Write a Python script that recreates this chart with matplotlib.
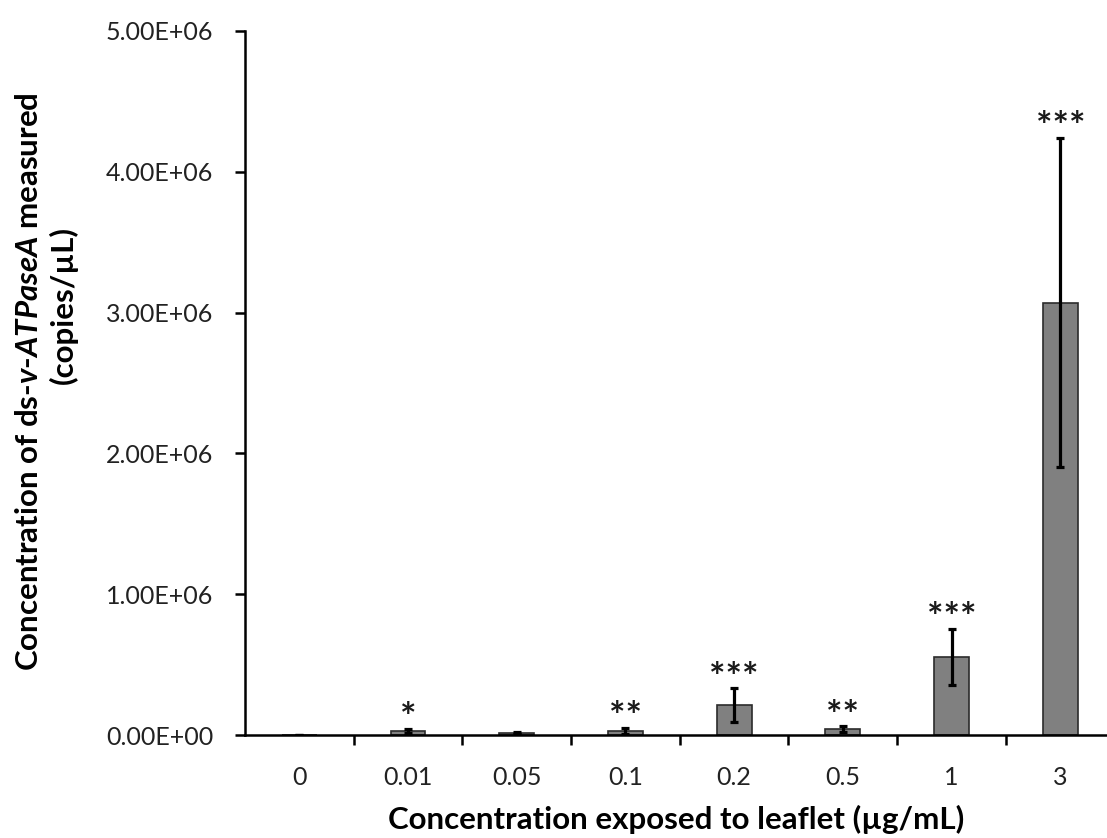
import matplotlib
matplotlib.use("Agg")
import matplotlib.pyplot as plt
import numpy as np

categories = ["0", "0.01", "0.05", "0.1", "0.2", "0.5", "1", "3"]
means = [0, 2.8e4, 1.5e4, 3.0e4, 2.13e5, 4.3e4, 5.54e5, 3.07e6]
errors = [0, 1.5e4, 5e3, 2.0e4, 1.2e5, 2.0e4, 2.0e5, 1.17e6]
stars = ["", "*", "", "**", "***", "**", "***", "***"]
yticks = [0, 1e6, 2e6, 3e6, 4e6, 5e6]
ytick_labels = ["0.00E+00", "1.00E+06", "2.00E+06", "3.00E+06", "4.00E+06", "5.00E+06"]

plt.rcParams['font.family'] = ['Lato', 'DejaVu Sans']
plt.rcParams['mathtext.fontset'] = 'custom'
plt.rcParams['mathtext.rm'] = 'Lato'
plt.rcParams['mathtext.bf'] = 'Lato:bold'
plt.rcParams['mathtext.it'] = 'Lato:italic'
plt.rcParams['mathtext.bfit'] = 'Lato:italic:bold'

fig = plt.figure(figsize=(11.07, 8.38), dpi=100)
ax = fig.add_axes([0.2213, 0.1229, 0.7787, 0.8402])
x = np.arange(len(categories))
ax.bar(x, means, width=0.32, color="#808080", edgecolor="#2b2b2b", linewidth=1.2, zorder=2)
ax.errorbar(x, means, yerr=errors, fmt="none", ecolor="black", elinewidth=2.3, capsize=2.8, capthick=2.3, zorder=3)
for xi, m, e, s in zip(x, means, errors, stars):
    if s:
        ax.annotate(s, (xi, m + e), xytext=(0, -1), textcoords="offset points",
                    ha="center", va="baseline", fontsize=28, fontweight="bold", color="#1a1a1a")

ax.set_xlim(-0.5, 7.43)
ax.set_ylim(0, 5e6)
ax.set_xticks(x)
ax.set_xticklabels(categories)
ax.set_xticks(np.arange(0.5, 7.5, 1), minor=True)
ax.tick_params(axis="x", which="major", length=0, pad=22, labelsize=18, colors="#222222")
ax.tick_params(axis="x", which="minor", length=7, width=1.8, direction="out", color="black")
ax.set_yticks(yticks)
ax.set_yticklabels(ytick_labels)
ax.tick_params(axis="y", length=7, width=1.8, direction="out", labelsize=18, pad=16, labelcolor="#222222")
for sp in ["top", "right"]:
    ax.spines[sp].set_visible(False)
ax.spines["left"].set_linewidth(1.8)
ax.spines["bottom"].set_linewidth(1.8)

ax.set_xlabel("Concentration exposed to leaflet (µg/mL)", fontsize=22.5, fontweight="bold", labelpad=12)
fig.text(0.026, 0.544, r"Concentration of ds-$\mathbfit{v}$-$\mathbfit{ATPaseA}$ measured",
         rotation=90, ha="center", va="center", fontsize=22.5, fontweight="bold")
fig.text(0.057, 0.636, "(copies/µL)", rotation=90, ha="center", va="center", fontsize=22.5, fontweight="bold")

fig.savefig("out.png", dpi=100)
